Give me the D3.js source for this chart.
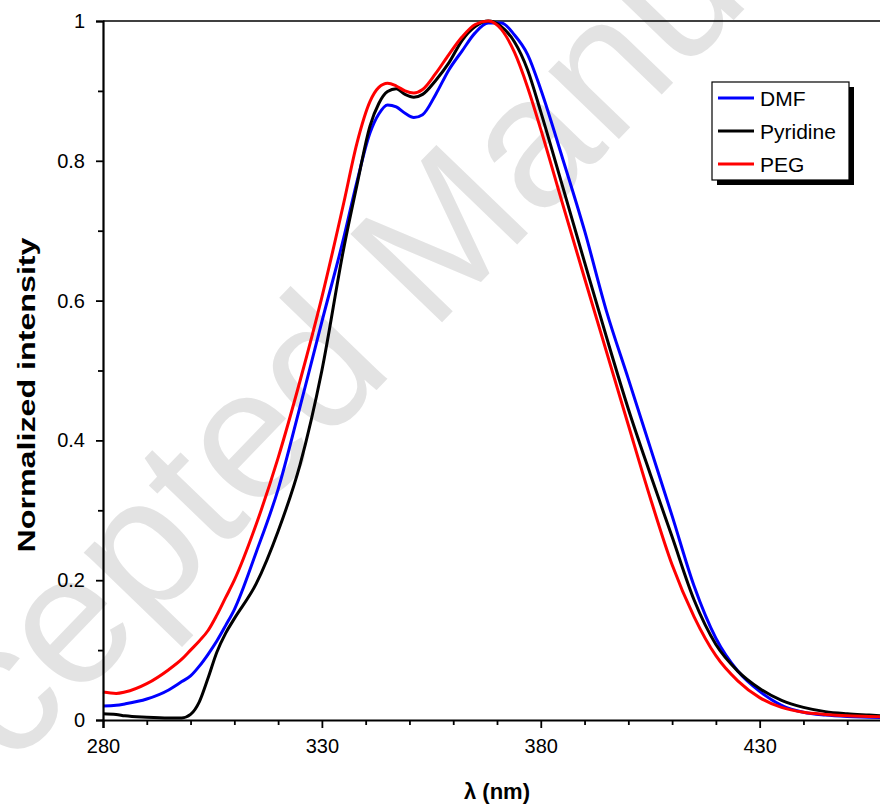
<!DOCTYPE html>
<html>
<head>
<meta charset="utf-8">
<script src="https://cdn.jsdelivr.net/npm/d3@7"></script>
<style>
  body { margin: 0; background: #fff; }
  svg { display: block; font-family: Arial, "Liberation Sans", sans-serif; }
</style>
</head>
<body>
<div id="graph"></div>
<script>
// wavelength grid (nm) shared by all three spectra
var wavelength = [280, 283, 285, 290, 295, 298, 300, 302, 304, 306, 308, 310, 315, 320, 325, 330,
    335, 338, 341, 343, 345, 347, 349, 351, 353, 356, 359, 362, 365, 368, 371, 374, 377, 380,
    385, 390, 395, 400, 405, 410, 415, 420, 425, 430, 435, 440, 445, 450, 455, 460];

var dmf = [0.020, 0.021, 0.023, 0.030, 0.043, 0.055, 0.063, 0.077, 0.094, 0.113, 0.135, 0.158,
    0.240, 0.330, 0.448, 0.570, 0.690, 0.770, 0.840, 0.867, 0.880, 0.877, 0.868, 0.862, 0.866,
    0.895, 0.930, 0.957, 0.983, 0.997, 0.997, 0.980, 0.952, 0.902, 0.803, 0.700, 0.585, 0.488,
    0.390, 0.292, 0.192, 0.117, 0.070, 0.041, 0.021, 0.011, 0.007, 0.005, 0.004, 0.003];

var pyridine = [0.009, 0.008, 0.006, 0.004, 0.003, 0.003, 0.008, 0.026, 0.060, 0.097, 0.124,
    0.145, 0.195, 0.270, 0.365, 0.500, 0.675, 0.765, 0.850, 0.882, 0.899, 0.903, 0.895, 0.891,
    0.895, 0.915, 0.940, 0.972, 0.992, 1.000, 0.992, 0.970, 0.930, 0.870, 0.763, 0.655, 0.548,
    0.445, 0.352, 0.262, 0.172, 0.108, 0.070, 0.045, 0.028, 0.018, 0.012, 0.009, 0.007, 0.005];

var peg = [0.040, 0.038, 0.040, 0.052, 0.072, 0.087, 0.100, 0.113, 0.128, 0.150, 0.175, 0.200,
    0.280, 0.375, 0.485, 0.605, 0.740, 0.825, 0.885, 0.905, 0.911, 0.907, 0.900, 0.897, 0.902,
    0.925, 0.952, 0.977, 0.995, 1.000, 0.988, 0.955, 0.905, 0.845, 0.738, 0.632, 0.527, 0.422,
    0.318, 0.222, 0.148, 0.092, 0.056, 0.032, 0.018, 0.011, 0.008, 0.006, 0.005, 0.004];

var seriesNames = ["DMF", "Pyridine", "PEG"];
var seriesValues = [dmf, pyridine, peg];
var seriesColors = ["#0000ff", "#000000", "#ff0000"];

var xMajor = [280, 330, 380, 430];
var yMajor = [0, 0.2, 0.4, 0.6, 0.8, 1];

var W = 880, H = 810;
var svg = d3.select("#graph").append("svg").attr("width", W).attr("height", H);

// faint watermark behind the chart
svg.append("text")
    .attr("transform", "translate(-140,925) rotate(-46)")
    .attr("font-size", "185px")
    .attr("fill", "#e3e3e3")
    .text("Accepted Manuscript");

var scX = d3.scaleLinear().domain([280, 460]).range([103, 891]);
var scY = d3.scaleLinear().domain([0, 1]).range([720, 21]);

// top frame line
svg.append("line")
    .attr("x1", scX(280)).attr("x2", scX(460))
    .attr("y1", scY(1)).attr("y2", scY(1))
    .attr("stroke", "#000").attr("stroke-width", 1.3);

// Curves
var line = d3.line()
    .x(function (d) { return scX(d[0]); })
    .y(function (d) { return scY(d[1]); })
    .curve(d3.curveMonotoneX);

seriesValues.forEach(function (vals, i) {
    svg.append("path")
        .datum(wavelength.map(function (w, j) { return [w, vals[j]]; }))
        .attr("fill", "none")
        .attr("stroke", seriesColors[i])
        .attr("stroke-width", 3)
        .attr("stroke-linejoin", "round")
        .attr("d", line);
});

// Axes
var xAxis = svg.append("g")
    .attr("transform", "translate(0," + scY(0) + ")")
    .call(d3.axisBottom(scX).tickValues(xMajor).tickSize(8).tickPadding(6).tickFormat(d3.format("d")));
svg.append("g")
    .attr("transform", "translate(0," + scY(0) + ")")
    .call(d3.axisBottom(scX).tickValues(d3.range(290, 460, 10).filter(function (v) { return xMajor.indexOf(v) < 0; }))
        .tickSize(5).tickFormat(""))
    .select(".domain").remove();

svg.append("g")
    .attr("transform", "translate(" + scX(280) + ",0)")
    .call(d3.axisLeft(scY).tickValues(yMajor).tickSize(7).tickPadding(11)
        .tickFormat(function (d) { return d === 0 || d === 1 ? d : d3.format(".1f")(d); }));
svg.append("g")
    .attr("transform", "translate(" + scX(280) + ",0)")
    .call(d3.axisLeft(scY).tickValues([0.1, 0.3, 0.5, 0.7, 0.9]).tickSize(5).tickFormat(""))
    .select(".domain").remove();

svg.selectAll(".domain").attr("stroke", "#000").attr("stroke-width", 2.2);
svg.selectAll(".tick line").attr("stroke", "#000").attr("stroke-width", 1.8);
svg.selectAll(".tick text")
    .attr("font-family", "Arial, 'Liberation Sans', sans-serif")
    .attr("font-size", "20px")
    .attr("fill", "#000");
xAxis.selectAll(".tick text").attr("dy", "1em").attr("y", 13);

// Labels
svg.append("text")
    .attr("x", (scX(280) + scX(460)) / 2)
    .attr("y", 799)
    .attr("text-anchor", "middle")
    .attr("font-size", "22px")
    .attr("font-weight", "bold")
    .text("\u03bb (nm)");

svg.append("text")
    .attr("transform", "translate(35,395) rotate(-90)")
    .attr("text-anchor", "middle")
    .attr("font-size", "24px")
    .attr("font-weight", "bold")
    .attr("textLength", 315)
    .attr("lengthAdjust", "spacingAndGlyphs")
    .text("Normalized intensity");

// Legend
var lg = svg.append("g").attr("transform", "translate(712,82)");
lg.append("rect").attr("x", 5).attr("y", 5).attr("width", 137).attr("height", 98).attr("fill", "#000");
lg.append("rect").attr("x", 0).attr("y", 0).attr("width", 137).attr("height", 98)
    .attr("fill", "#fff").attr("stroke", "#000").attr("stroke-width", 1.2);
seriesNames.forEach(function (name, i) {
    var yy = 16 + i * 33;
    lg.append("line").attr("x1", 6).attr("x2", 42).attr("y1", yy).attr("y2", yy)
        .attr("stroke", seriesColors[i]).attr("stroke-width", 3);
    lg.append("text").attr("x", 48).attr("y", yy).attr("dy", "0.36em")
        .attr("font-size", "21px").text(name);
});
</script>
</body>
</html>
